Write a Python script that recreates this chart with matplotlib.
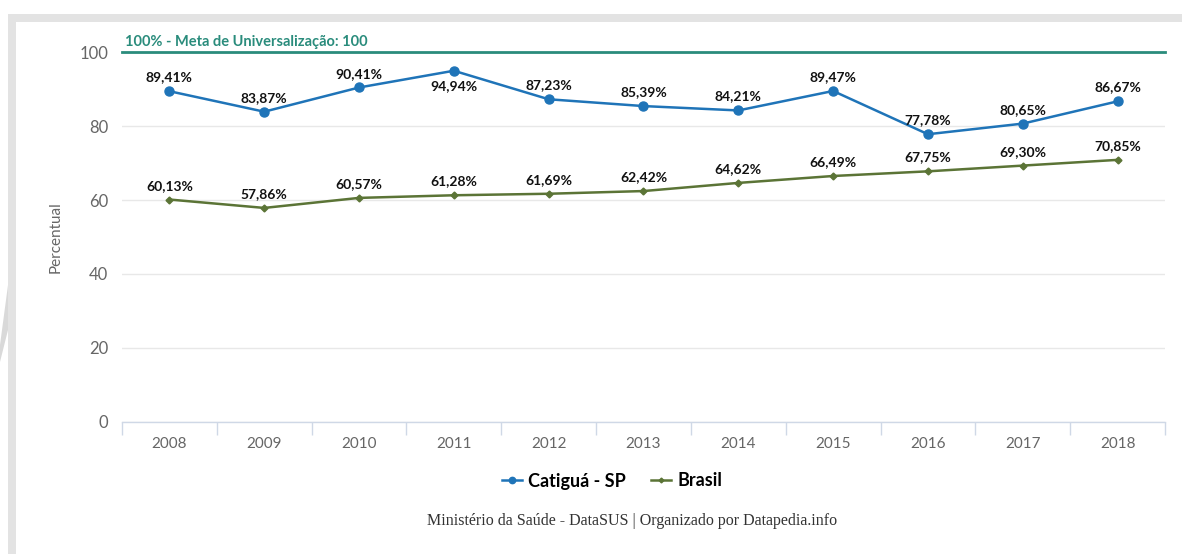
import matplotlib.pyplot as plt
from matplotlib.patches import Rectangle, Polygon

years = ["2008", "2009", "2010", "2011", "2012", "2013",
         "2014", "2015", "2016", "2017", "2018"]
catigua = [89.41, 83.87, 90.41, 94.94, 87.23, 85.39,
           84.21, 89.47, 77.78, 80.65, 86.67]
brasil = [60.13, 57.86, 60.57, 61.28, 61.69, 62.42,
          64.62, 66.49, 67.75, 69.30, 70.85]
meta = 100
meta_label = "100% - Meta de Universalização: 100"
yticks = [0, 20, 40, 60, 80, 100]

BLUE = "#1f74b8"
GREEN = "#5b7436"
TEAL = "#2a8c7c"
GRID = "#e8e8e8"
TICK_COLOR = "#666666"

plt.rcParams["font.family"] = ["Lato", "DejaVu Sans"]

fig = plt.figure(figsize=(11.82, 5.54), dpi=100)
ax = fig.add_axes([0.1032, 0.2383, 0.8824, 0.6678])

# page frame
fig.add_artist(Rectangle((8 / 1182, 1 - 22 / 554), 1, 8 / 554,
                         transform=fig.transFigure, color="#e3e3e3", lw=0))
fig.add_artist(Rectangle((8 / 1182, 0), 8 / 1182, 1 - 14 / 554,
                         transform=fig.transFigure, color="#e3e3e3", lw=0))
fig.add_artist(Polygon([(0, 1 - 345 / 554), (8 / 1182, 1 - 285 / 554),
                        (8 / 1182, 1 - 330 / 554), (0, 1 - 362 / 554)],
                       closed=True, transform=fig.transFigure,
                       color="#d9d9d9", lw=0))

x = list(range(len(years)))

ax.plot(x, catigua, color=BLUE, lw=1.8, marker="o", ms=6.5,
        label="Catiguá - SP", zorder=4)
ax.plot(x, brasil, color=GREEN, lw=1.8, marker="D", ms=3.5,
        label="Brasil", zorder=4)

ax.axhline(meta, color=TEAL, lw=2, zorder=3, clip_on=False)
ax.text(0.003, meta + 0.8, meta_label, transform=ax.get_yaxis_transform(),
        color=TEAL, fontsize=10.5, fontweight="bold", ha="left", va="bottom")

# value labels, Catiguá 2011 sits under its point
for i, v in enumerate(catigua):
    below = i == 3
    ax.annotate(f"{v:.2f}%".replace(".", ","), (i, v),
                xytext=(0, -11 if below else 10), textcoords="offset points",
                ha="center", va="center", fontsize=10, fontweight="bold",
                color="#111111", zorder=5)
for i, v in enumerate(brasil):
    ax.annotate(f"{v:.2f}%".replace(".", ","), (i, v),
                xytext=(0, 10), textcoords="offset points",
                ha="center", va="center", fontsize=10, fontweight="bold",
                color="#111111", zorder=5)

ax.set_xlim(-0.5, len(years) - 0.5)
ax.set_ylim(0, 100)
ax.set_yticks(yticks)
ax.set_yticklabels([str(t) for t in yticks])
ax.set_xticks(x)
ax.set_xticklabels(years)
ax.set_xticks([i - 0.5 for i in range(len(years) + 1)], minor=True)
ax.tick_params(axis="x", which="major", length=0, pad=11,
               labelsize=11, labelcolor=TICK_COLOR)
ax.tick_params(axis="x", which="minor", length=9, color="#cfd8e6", width=1)
ax.tick_params(axis="y", length=0, pad=10, labelsize=12,
               labelcolor=TICK_COLOR)

ax.grid(axis="y", color=GRID, lw=1)
ax.set_axisbelow(True)
for side in ["top", "right", "left"]:
    ax.spines[side].set_visible(False)
ax.spines["bottom"].set_color("#cfd8e6")
ax.spines["bottom"].set_linewidth(1)

ax.set_ylabel("Percentual", fontsize=11, color=TICK_COLOR, labelpad=12)

fig.legend(loc="center", bbox_to_anchor=(612 / 1182, 1 - 481 / 554),
           ncol=2, frameon=False, handlelength=1.1, columnspacing=1.4,
           handletextpad=0.35, markerscale=0.7,
           prop={"weight": "bold", "size": 13})

fig.text(632 / 1182, 1 - 521 / 554,
         "Ministério da Saúde - DataSUS | Organizado por Datapedia.info",
         ha="center", va="center", fontsize=11.5, color="#333333",
         family=["Liberation Serif", "DejaVu Serif"])

fig.savefig("out.png", dpi=100, facecolor="white")
